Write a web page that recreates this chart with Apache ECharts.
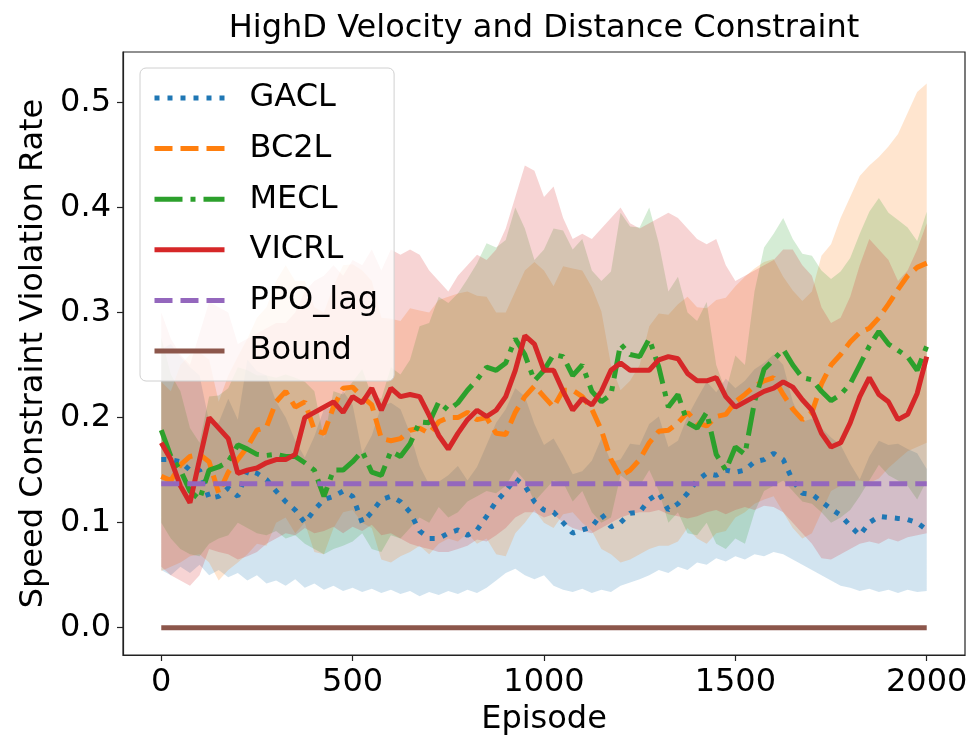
<!DOCTYPE html>
<html><head><meta charset="utf-8">
<script src="https://cdn.jsdelivr.net/npm/echarts@6/dist/echarts.min.js"></script>
<style>html,body{margin:0;padding:0;background:#fff}#c{width:974px;height:740px}</style>
</head><body><div id="c"></div>
<script>
const episodes = [0,25,50,75,100,125,150,175,200,225,250,275,300,325,350,375,400,425,450,475,
500,525,550,575,600,625,650,675,700,725,750,775,800,825,850,875,900,925,950,975,
1000,1025,1050,1075,1100,1125,1150,1175,1200,1225,1250,1275,1300,1325,1350,1375,1400,1425,1450,1475,
1500,1525,1550,1575,1600,1625,1650,1675,1700,1725,1750,1775,1800,1825,1850,1875,1900,1925,1950,1975,2000];

const xTicks = [0,500,1000,1500,2000];
const yTicks = [0,0.1,0.2,0.3,0.4,0.5];
const legendNames = ['GACL','BC2L','MECL','VICRL','PPO_lag','Bound'];

const gacl = [0.16,0.16,0.158,0.15,0.15,0.123,0.125,0.133,0.125,0.15,
0.147,0.141,0.13,0.12,0.112,0.1,0.112,0.122,0.125,0.13,
0.125,0.1,0.11,0.122,0.125,0.12,0.11,0.092,0.085,0.085,
0.09,0.093,0.088,0.093,0.106,0.12,0.13,0.142,0.135,0.12,
0.112,0.11,0.1,0.09,0.093,0.096,0.108,0.096,0.1,0.109,
0.11,0.122,0.128,0.112,0.118,0.128,0.14,0.147,0.145,0.15,
0.148,0.15,0.158,0.16,0.166,0.16,0.14,0.128,0.127,0.12,
0.113,0.107,0.097,0.088,0.1,0.106,0.105,0.104,0.103,0.1,0.093];
const gaclLow = [0.055,0.05,0.058,0.052,0.06,0.05,0.055,0.048,0.052,0.045,
0.05,0.042,0.045,0.04,0.046,0.038,0.042,0.036,0.04,0.035,
0.038,0.034,0.037,0.033,0.036,0.032,0.035,0.03,0.034,0.031,
0.035,0.032,0.036,0.033,0.038,0.045,0.052,0.056,0.05,0.046,
0.05,0.04,0.036,0.034,0.037,0.033,0.036,0.034,0.04,0.043,
0.046,0.05,0.055,0.052,0.058,0.055,0.062,0.06,0.066,0.063,
0.068,0.065,0.07,0.068,0.072,0.07,0.065,0.06,0.055,0.05,
0.045,0.04,0.038,0.035,0.037,0.034,0.036,0.033,0.036,0.034,0.035];
const gaclHigh = [0.265,0.27,0.258,0.248,0.24,0.196,0.195,0.218,0.198,0.255,
0.244,0.24,0.215,0.2,0.178,0.162,0.182,0.208,0.21,0.225,
0.212,0.166,0.183,0.211,0.214,0.208,0.185,0.154,0.136,0.139,
0.145,0.154,0.14,0.153,0.174,0.195,0.208,0.228,0.22,0.194,
0.174,0.18,0.164,0.146,0.149,0.159,0.18,0.158,0.16,0.175,
0.174,0.194,0.201,0.172,0.178,0.201,0.218,0.234,0.224,0.237,
0.228,0.235,0.246,0.252,0.26,0.25,0.215,0.196,0.199,0.19,
0.181,0.174,0.156,0.141,0.163,0.178,0.174,0.175,0.17,0.166,0.151];

const bc2l = [0.144,0.14,0.155,0.163,0.165,0.158,0.128,0.148,0.16,0.172,
0.188,0.191,0.215,0.225,0.21,0.215,0.188,0.185,0.21,0.228,
0.229,0.22,0.212,0.18,0.178,0.18,0.188,0.19,0.185,0.196,
0.2,0.2,0.205,0.198,0.2,0.185,0.184,0.205,0.22,0.23,
0.22,0.21,0.226,0.226,0.22,0.208,0.188,0.16,0.144,0.15,
0.16,0.176,0.187,0.188,0.195,0.205,0.195,0.192,0.201,0.203,
0.215,0.222,0.23,0.235,0.238,0.222,0.208,0.198,0.205,0.232,
0.25,0.26,0.272,0.281,0.285,0.295,0.308,0.322,0.335,0.343,0.347];
const bc2lLow = [0.054,0.058,0.062,0.068,0.07,0.062,0.045,0.055,0.062,0.07,
0.08,0.078,0.1,0.105,0.09,0.1,0.072,0.07,0.095,0.11,
0.112,0.1,0.095,0.065,0.062,0.068,0.072,0.078,0.07,0.08,
0.085,0.082,0.09,0.08,0.085,0.07,0.068,0.09,0.1,0.112,
0.1,0.095,0.108,0.11,0.1,0.092,0.075,0.07,0.062,0.065,
0.07,0.075,0.078,0.078,0.082,0.095,0.085,0.08,0.09,0.092,
0.105,0.11,0.118,0.122,0.125,0.11,0.095,0.085,0.09,0.11,
0.13,0.135,0.14,0.14,0.138,0.142,0.152,0.16,0.168,0.172,0.176];
const bc2lHigh = [0.234,0.225,0.25,0.26,0.262,0.255,0.215,0.24,0.258,0.275,
0.295,0.305,0.33,0.345,0.33,0.33,0.305,0.3,0.325,0.345,
0.346,0.34,0.33,0.295,0.294,0.292,0.304,0.302,0.3,0.312,
0.315,0.318,0.32,0.316,0.315,0.3,0.3,0.32,0.34,0.348,
0.34,0.325,0.344,0.342,0.34,0.324,0.301,0.25,0.226,0.235,
0.25,0.287,0.299,0.298,0.308,0.315,0.305,0.304,0.312,0.314,
0.325,0.334,0.342,0.348,0.351,0.334,0.321,0.311,0.32,0.354,
0.365,0.39,0.41,0.43,0.44,0.448,0.458,0.47,0.49,0.51,0.518];

const mecl = [0.188,0.163,0.15,0.13,0.122,0.15,0.153,0.158,0.174,0.17,
0.165,0.164,0.165,0.163,0.163,0.157,0.15,0.125,0.15,0.15,
0.158,0.168,0.148,0.145,0.168,0.163,0.175,0.196,0.195,0.215,
0.207,0.214,0.226,0.236,0.248,0.245,0.252,0.275,0.26,0.235,
0.245,0.26,0.258,0.24,0.25,0.225,0.215,0.222,0.27,0.26,
0.258,0.275,0.248,0.21,0.222,0.195,0.19,0.205,0.165,0.15,
0.172,0.165,0.215,0.246,0.255,0.265,0.25,0.238,0.236,0.225,
0.216,0.222,0.232,0.25,0.268,0.282,0.27,0.264,0.258,0.245,0.268];
const meclLow = [0.1,0.085,0.075,0.07,0.068,0.08,0.085,0.088,0.1,0.095,
0.09,0.088,0.092,0.085,0.088,0.08,0.075,0.07,0.075,0.078,
0.082,0.09,0.075,0.072,0.088,0.085,0.095,0.105,0.1,0.115,
0.105,0.11,0.12,0.125,0.13,0.128,0.135,0.15,0.14,0.12,
0.13,0.14,0.138,0.12,0.13,0.11,0.1,0.105,0.145,0.138,
0.135,0.15,0.13,0.1,0.11,0.09,0.088,0.1,0.08,0.075,
0.085,0.08,0.11,0.13,0.135,0.14,0.13,0.12,0.118,0.11,
0.1,0.105,0.112,0.125,0.14,0.155,0.145,0.14,0.135,0.122,0.14];
const meclHigh = [0.276,0.241,0.225,0.19,0.176,0.22,0.221,0.228,0.248,0.245,
0.24,0.24,0.238,0.241,0.238,0.234,0.225,0.18,0.225,0.222,
0.234,0.246,0.221,0.218,0.248,0.241,0.255,0.287,0.29,0.315,
0.309,0.318,0.332,0.347,0.366,0.362,0.369,0.4,0.38,0.35,
0.36,0.38,0.378,0.36,0.37,0.34,0.33,0.339,0.395,0.382,
0.381,0.4,0.366,0.32,0.334,0.3,0.292,0.31,0.25,0.225,
0.259,0.25,0.32,0.362,0.375,0.39,0.37,0.356,0.354,0.34,
0.332,0.339,0.352,0.375,0.396,0.409,0.395,0.388,0.381,0.368,0.396];

const vicrl = [0.176,0.16,0.135,0.119,0.16,0.2,0.19,0.18,0.147,0.15,
0.152,0.157,0.16,0.16,0.165,0.2,0.205,0.21,0.215,0.205,
0.22,0.214,0.228,0.207,0.228,0.22,0.222,0.22,0.202,0.183,
0.17,0.185,0.198,0.207,0.201,0.207,0.22,0.245,0.278,0.27,
0.245,0.245,0.225,0.207,0.218,0.212,0.225,0.245,0.252,0.245,
0.245,0.245,0.255,0.258,0.256,0.242,0.235,0.235,0.238,0.22,
0.21,0.215,0.22,0.225,0.228,0.234,0.229,0.217,0.207,0.185,
0.172,0.176,0.195,0.22,0.238,0.222,0.215,0.198,0.203,0.223,0.258];
const vicrlLow = [0.058,0.05,0.045,0.04,0.05,0.075,0.072,0.07,0.065,0.068,
0.072,0.08,0.085,0.09,0.088,0.095,0.09,0.092,0.096,0.09,
0.096,0.092,0.098,0.088,0.09,0.085,0.08,0.077,0.075,0.072,
0.072,0.075,0.078,0.084,0.082,0.088,0.095,0.105,0.11,0.11,
0.105,0.108,0.1,0.095,0.092,0.09,0.095,0.1,0.105,0.108,
0.11,0.11,0.112,0.108,0.106,0.104,0.106,0.11,0.112,0.108,
0.112,0.115,0.112,0.116,0.115,0.11,0.1,0.09,0.08,0.066,
0.065,0.07,0.075,0.08,0.082,0.08,0.085,0.082,0.086,0.088,0.09];
const vicrlHigh = [0.3,0.275,0.26,0.25,0.28,0.31,0.305,0.3,0.27,0.275,
0.28,0.285,0.29,0.29,0.3,0.32,0.33,0.335,0.345,0.335,
0.35,0.345,0.36,0.34,0.36,0.355,0.36,0.355,0.34,0.33,
0.32,0.335,0.345,0.355,0.35,0.36,0.38,0.41,0.44,0.435,
0.41,0.42,0.39,0.37,0.375,0.37,0.38,0.39,0.4,0.385,
0.38,0.385,0.39,0.395,0.39,0.38,0.37,0.365,0.37,0.345,
0.33,0.335,0.34,0.345,0.35,0.36,0.36,0.345,0.335,0.305,
0.29,0.295,0.315,0.345,0.37,0.36,0.35,0.33,0.34,0.36,0.385];

const ppoLagLevel = 0.137;
const boundLevel = 0.0;
const lineEnds = [0, 2000];

const FONT = 'DejaVu Sans';
const colors = {GACL:'#1f77b4', BC2L:'#ff7f0e', MECL:'#2ca02c', VICRL:'#d62728', PPO_lag:'#9467bd', Bound:'#8c564b'};

function pairs(vals){ return episodes.map((e,i)=>[e, vals[i]]); }
function band(key, lower, upper){
  return {
    name:key+'_band', type:'custom', silent:true, z:1, clip:true,
    data:episodes.map((e,i)=>[e, lower[i], upper[i]]),
    encode:{x:0, y:[1,2]},
    renderItem:function(params, api){
      if (params.dataIndex !== 0) return null;
      const pts = [];
      for (let i=0;i<episodes.length;i++) pts.push(api.coord([episodes[i], upper[i]]));
      for (let i=episodes.length-1;i>=0;i--) pts.push(api.coord([episodes[i], lower[i]]));
      return {type:'polygon', shape:{points:pts}, style:{fill:colors[key], opacity:0.2}};
    }
  };
}
function mainLine(key, data, type){
  return {name:key, type:'line', data:data, symbol:'none', z:3, silent:true, color:colors[key],
    itemStyle:{color:colors[key]}, lineStyle:{color:colors[key], width:5, type:type}, emphasis:{disabled:true}};
}

const series = [
  band('GACL', gaclLow, gaclHigh),
  band('BC2L', bc2lLow, bc2lHigh),
  band('MECL', meclLow, meclHigh),
  band('VICRL', vicrlLow, vicrlHigh),
  mainLine('GACL', pairs(gacl), [5,8]),
  mainLine('BC2L', pairs(bc2l), [18,8]),
  mainLine('MECL', pairs(mecl), [28,8,5,8]),
  mainLine('VICRL', pairs(vicrl), 'solid'),
  mainLine('PPO_lag', lineEnds.map(e=>[e, ppoLagLevel]), [18,8]),
  mainLine('Bound', lineEnds.map(e=>[e, boundLevel]), 'solid')
];

const chart = echarts.init(document.getElementById('c'), null, {renderer:'canvas'});
chart.setOption({
  animation:false,
  backgroundColor:'#ffffff',
  title:{text:'HighD Velocity and Distance Constraint', left:544, top:13, textAlign:'center', padding:0,
    textStyle:{fontFamily:FONT, fontSize:32, fontWeight:'normal', color:'#000'}},
  grid:{left:123, right:9, top:52, bottom:85, show:true, borderColor:'#222', borderWidth:1.2, containLabel:false, outerBoundsMode:'none'},
  legend:{data:legendNames, orient:'vertical', left:140, top:68, itemWidth:70, itemHeight:14, itemGap:10.6,
    padding:[10,16,10,12], backgroundColor:'rgba(255,255,255,0.8)', borderColor:'#d0d0d0', borderWidth:1, borderRadius:6,
    selectedMode:false,
    itemStyle:{opacity:0},
    lineStyle:{width:5},
    textStyle:{fontFamily:FONT, fontSize:32, color:'#000', lineHeight:40, padding:[0,0,0,20]}},
  xAxis:{type:'value', min:-100, max:2100,
    name:'Episode', nameLocation:'middle', nameGap:44,
    nameTextStyle:{fontFamily:FONT, fontSize:32, color:'#000'},
    axisLine:{show:true, onZero:false, lineStyle:{color:'#222', width:1.2}},
    axisTick:{show:true, length:6, customValues:xTicks, lineStyle:{color:'#222', width:1.2}},
    axisLabel:{customValues:xTicks, fontFamily:FONT, fontSize:32, color:'#000', margin:12,
      formatter:v=>String(v)},
    splitLine:{show:false}},
  yAxis:{type:'value', min:-0.026, max:0.548,
    name:'Speed Constraint Violation Rate', nameLocation:'middle', nameGap:72,
    nameTextStyle:{fontFamily:FONT, fontSize:32, color:'#000'},
    axisLine:{show:true, onZero:false, lineStyle:{color:'#222', width:1.2}},
    axisTick:{show:true, length:6, customValues:yTicks, lineStyle:{color:'#222', width:1.2}},
    axisLabel:{customValues:yTicks, fontFamily:FONT, fontSize:32, color:'#000', margin:12,
      formatter:v=>Number(v).toFixed(1)},
    splitLine:{show:false}},
  series:series
});
</script></body></html>
